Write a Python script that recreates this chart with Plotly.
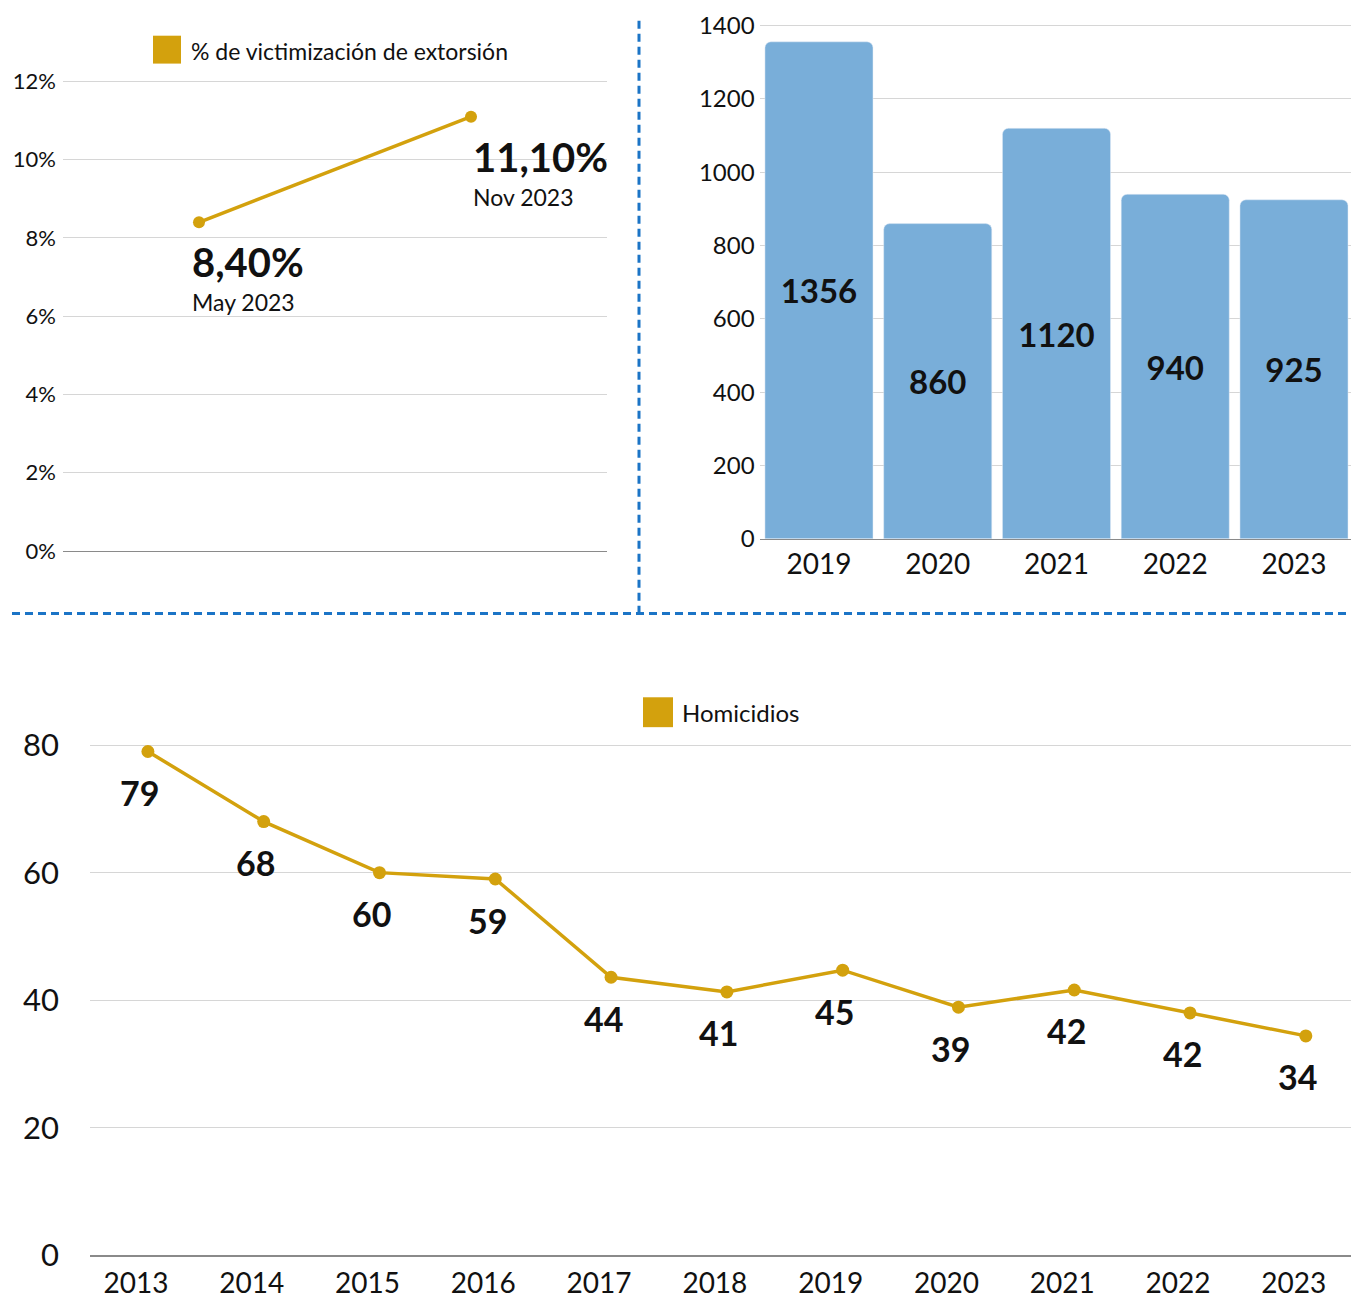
import plotly.graph_objects as go

# ---------------- data ----------------
ext_periods = ["May 2023", "Nov 2023"]
ext_values = [8.4, 11.1]

bar_years = ["2019", "2020", "2021", "2022", "2023"]
bar_values = [1356, 860, 1120, 940, 925]

hom_years = ["2013", "2014", "2015", "2016", "2017", "2018", "2019", "2020", "2021", "2022", "2023"]
hom_values = [79, 68, 60, 59, 43.6, 41.3, 44.7, 38.9, 41.6, 38.0, 34.4]
hom_labels = ["79", "68", "60", "59", "44", "41", "45", "39", "42", "42", "34"]

ext_legend = "% de victimización de extorsión"
hom_legend = "Homicidios"

# ---------------- styling ----------------
W, H = 1351, 1324
YOFF, YSC = 4.2, 0.9847
GOLD = "#d3a10d"
BLUE_BAR = "#79aed9"
DASH_BLUE = "#1b74c6"
GRID = "#d6d6d6"
BASE = "#8a8a8a"
TXT = "#111111"
FONT = "Lato, 'Open Sans', sans-serif"


def px_x(p):
    return p / W


def px_y(p):
    q = (p - YOFF) / YSC
    return 1 - q / H


fig = go.Figure()

# top-left line chart
fig.add_trace(go.Scatter(
    x=ext_periods, y=ext_values, mode="lines+markers",
    line=dict(color=GOLD, width=3.5), marker=dict(color=GOLD, size=12),
    xaxis="x", yaxis="y", showlegend=False, hoverinfo="skip"))

# top-right bar chart
fig.add_trace(go.Bar(
    x=bar_years, y=bar_values, marker=dict(color=BLUE_BAR, cornerradius=6),
    text=[str(v) for v in bar_values], textposition="inside",
    insidetextanchor="middle",
    textfont=dict(family=FONT, size=33, color=TXT, weight="bold"),
    xaxis="x2", yaxis="y2", showlegend=False, hoverinfo="skip"))

# bottom line chart
fig.add_trace(go.Scatter(
    x=hom_years, y=hom_values, mode="lines+markers",
    line=dict(color=GOLD, width=3.5), marker=dict(color=GOLD, size=13),
    xaxis="x3", yaxis="y3", showlegend=False, hoverinfo="skip"))

annotations = []
# labels top-left
for i, (per, v) in enumerate(zip(ext_periods, ext_values)):
    big = f"{v:.2f}".replace(".", ",") + "%"
    xs = -9 if i == 0 else 0
    annotations.append(dict(x=i, y=v, xref="x", yref="y", text=big, showarrow=False,
                            xanchor="left", yanchor="middle", xshift=xs, yshift=-40,
                            font=dict(family=FONT, size=40, color=TXT, weight="bold")))
    annotations.append(dict(x=i, y=v, xref="x", yref="y", text=per, showarrow=False,
                            xanchor="left", yanchor="middle", xshift=xs, yshift=-80,
                            font=dict(family=FONT, size=23, color=TXT)))

# labels bottom
for i, (v, lab) in enumerate(zip(hom_values, hom_labels)):
    annotations.append(dict(x=i, y=v, xref="x3", yref="y3", text=lab, showarrow=False,
                            xanchor="center", yanchor="middle", xshift=-8, yshift=-41,
                            font=dict(family=FONT, size=34, color=TXT, weight="bold")))

# legends (manual)
annotations.append(dict(x=px_x(189), y=px_y(48), xref="paper", yref="paper", text=ext_legend,
                        showarrow=False, xanchor="left", yanchor="middle",
                        font=dict(family=FONT, size=23, color=TXT)))
annotations.append(dict(x=px_x(680), y=px_y(712), xref="paper", yref="paper", text=hom_legend,
                        showarrow=False, xanchor="left", yanchor="middle",
                        font=dict(family=FONT, size=24, color=TXT)))

shapes = [
    dict(type="rect", xref="paper", yref="paper", x0=px_x(153), x1=px_x(181), y0=px_y(61), y1=px_y(33),
         fillcolor=GOLD, line=dict(width=0)),
    dict(type="rect", xref="paper", yref="paper", x0=px_x(643), x1=px_x(673), y0=px_y(727), y1=px_y(697),
         fillcolor=GOLD, line=dict(width=0)),
    dict(type="line", xref="paper", yref="paper", x0=px_x(639), x1=px_x(639), y0=px_y(18), y1=px_y(612),
         line=dict(color=DASH_BLUE, width=3, dash="8px,5px")),
    dict(type="line", xref="paper", yref="paper", x0=px_x(12), x1=1, y0=px_y(613), y1=px_y(613),
         line=dict(color=DASH_BLUE, width=3, dash="8px,5px")),
]

tickfont_small = dict(family=FONT, size=22, color=TXT)
tickfont_mid = dict(family=FONT, size=24, color=TXT)
tickfont_big = dict(family=FONT, size=28, color=TXT)
tickfont_y3 = dict(family=FONT, size=31, color=TXT)

fig.update_layout(
    width=W, height=H, margin=dict(l=0, r=0, t=0, b=0),
    paper_bgcolor="white", plot_bgcolor="white",
    font=dict(family=FONT, color=TXT),
    bargap=0.09,
    annotations=annotations, shapes=shapes,
    xaxis=dict(domain=[px_x(63), px_x(607)], type="category", range=[-0.5, 1.5],
               showticklabels=False, showgrid=False, showline=True, linecolor=BASE,
               linewidth=1.2, anchor="y", fixedrange=True),
    yaxis=dict(domain=[px_y(550), px_y(67.2)], range=[0, 12.3], tickvals=[0, 2, 4, 6, 8, 10, 12],
               ticktext=["0%", "2%", "4%", "6%", "8%", "10%", "12%"], showgrid=True,
               gridcolor=GRID, gridwidth=1, zeroline=False, tickfont=tickfont_small,
               ticklabelstandoff=6, anchor="x"),
    xaxis2=dict(domain=[px_x(759.6), 1], type="category", range=[-0.5, 4.48], showgrid=False,
                showline=True, linecolor=BASE, linewidth=1.2, tickfont=tickfont_big,
                anchor="y2", ticklabelstandoff=0),
    yaxis2=dict(domain=[px_y(538), px_y(11.9)], range=[0, 1430],
                tickvals=[0, 200, 400, 600, 800, 1000, 1200, 1400],
                showgrid=True, gridcolor=GRID, gridwidth=1, zeroline=False,
                tickfont=tickfont_mid, ticklabelstandoff=4, anchor="x2"),
    xaxis3=dict(domain=[px_x(90), 1], type="category", range=[-0.5, 10.39], showgrid=False,
                showline=True, linecolor=BASE, linewidth=1.5, tickfont=tickfont_big,
                anchor="y3", ticklabelstandoff=2, ticklabelshift=-12),
    yaxis3=dict(domain=[px_y(1257), px_y(732.2)], range=[0, 82], tickvals=[0, 20, 40, 60, 80],
                showgrid=True, gridcolor=GRID, gridwidth=1, zeroline=False,
                tickfont=tickfont_y3, ticklabelstandoff=30, anchor="x3"),
)

post = (
    "document.documentElement.style.margin='0';"
    "document.body.style.margin='0';document.body.style.padding='0';"
    "document.body.style.overflow='hidden';"
    "var d=document.getElementsByClassName('plotly-graph-div')[0];"
    "d.style.position='fixed';d.style.top='0px';d.style.left='0px';"
)
fig.write_html("out.html", config={"displayModeBar": False}, post_script=post)
